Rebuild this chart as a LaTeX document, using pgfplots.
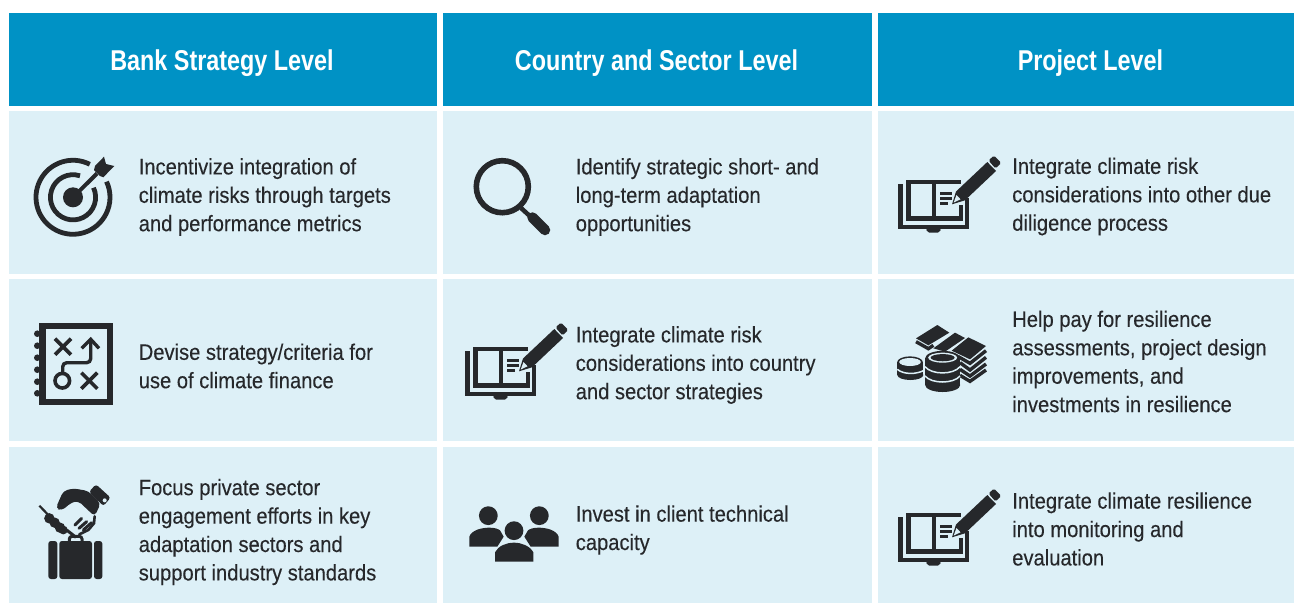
\documentclass[border=0pt]{standalone}
\usepackage{fontspec}
\setmainfont[FakeStretch=0.9,FakeBold=0.2]{Liberation Sans}
\newfontfamily\hdfont[FakeStretch=0.815]{Liberation Sans}
\usepackage{pgfplots}
\pgfplotsset{compat=1.18}
\definecolor{hdr}{RGB}{0,146,197}
\definecolor{cellbg}{RGB}{221,240,247}
\definecolor{ink}{RGB}{38,40,43}
\newdimen\px \px=0.75pt
\tikzset{lw/.style={line width=#1*0.75pt}}
\newcommand{\cell}[5]{\addplot[fill=#5,draw=none,forget plot] coordinates {(#1,#3)(#2,#3)(#2,#4)(#1,#4)} -- cycle;}
\newcommand{\hd}[2]{\node[text=white,anchor=center,font=\fontsize{21.5}{25}\hdfont\bfseries] at (axis cs:#1,63.5) {#2};}
\newcommand{\tx}[3]{\node[text=ink,anchor=west,align=left,inner sep=0pt,font=\fontsize{16.8}{21.3}\selectfont] at (axis cs:#1,#2) {#3};}
% local drawings; coordinates are pixels of the reference
\newcommand{\bookicon}[2]{%
\begin{scope}[shift={(#1,#2)}]
 \draw[ink,lw=4.4,line join=miter] (12.3,36)--(12.3,79)--(79,79)--(79,50);
 \fill[ink,rounded corners=1.5pt] (38,80)--(53,80)--(52,84.5)--(39,84.5)--cycle;
 \draw[ink,lw=4.3] (18.3,33.8)--(72.7,33.8);
 \draw[ink,lw=4.3] (20.5,33.8)--(20.5,72.7);
 \draw[ink,lw=4.3] (45.7,33.8)--(45.7,72.7);
 \draw[ink,lw=4.3] (18.3,70.5)--(72.7,70.5)--(72.7,57);
 \draw[ink,lw=2.6] (52.3,45.3)--(64,45.3) (52.3,50.3)--(64,50.3) (52.3,55.3)--(60,55.3);
 \fill[ink] (64,56.3)--(68,43.5)--(99.3,14)--(108,23)--(77,52.3)--cycle;
 \fill[cellbg] (65.7,54.5)--(68.5,47)--(72.5,51.3)--cycle;
 \fill[ink,rounded corners=1.2pt] (100.5,12.5)--(106,7.5)--(113.3,15)--(107.5,20.5)--cycle;
\end{scope}}
\begin{document}
\begin{tikzpicture}
\begin{axis}[hide axis,scale only axis,width=970.5pt,height=453pt,
  xmin=0,xmax=1294,ymin=0,ymax=604,y dir=reverse,clip=false]
\cell{0}{1294}{0}{604}{white}
% headers
\cell{9}{437}{13}{106}{hdr}
\cell{443}{872}{13}{106}{hdr}
\cell{878}{1294}{13}{106}{hdr}
% body cells
\cell{9}{437}{111}{274}{cellbg}
\cell{443}{872}{111}{274}{cellbg}
\cell{878}{1294}{111}{274}{cellbg}
\cell{9}{437}{279}{441}{cellbg}
\cell{443}{872}{279}{441}{cellbg}
\cell{878}{1294}{279}{441}{cellbg}
\cell{9}{437}{447}{603}{cellbg}
\cell{443}{872}{447}{603}{cellbg}
\cell{878}{1294}{447}{603}{cellbg}
\hd{222}{Bank Strategy Level}
\hd{656.5}{Country and Sector Level}
\hd{1090.5}{Project Level}
\tx{138.5}{197}{Incentivize integration of\\climate risks through targets\\and performance metrics}
\tx{138.5}{366}{Devise strategy/criteria for\\use of climate finance}
\tx{138.5}{532}{Focus private sector\\engagement efforts in key\\adaptation sectors and\\support industry standards}
\tx{575.5}{197}{Identify strategic short- and\\long-term adaptation\\opportunities}
\tx{575.5}{365}{Integrate climate risk\\considerations into country\\and sector strategies}
\tx{575.5}{530}{Invest in client technical\\capacity}
\tx{1012}{196.5}{Integrate climate risk\\considerations into other due\\diligence process}
\tx{1012}{361.5}{Help pay for resilience\\assessments, project design\\improvements, and\\investments in resilience}
\tx{1012}{529}{Integrate climate resilience\\into monitoring and\\evaluation}
\begin{scope}[shift={(axis cs:0,0)},x=0.75pt,y=-0.75pt]
 % target
 \fill[ink] (73,197.3) circle[radius=10\px];
 \draw[ink,lw=4.8] (89.8,164.3) arc[start angle=63,delta angle=322,radius=37\px];
 \draw[ink,lw=4.8] (80,175.8) arc[start angle=72,delta angle=313,radius=22.6\px];
 \draw[ink,lw=4] (73,197.3)--(97,173.5);
 \fill[ink] (94,170)--(95,166)--(104,156.7)--(106,164)--(114.3,166)--(103.3,177.3)--(100,176)--cycle;
 % notebook
 \draw[ink,lw=6.5] (42.5,326)rectangle(110,401.8);
 \fill[ink] (37.3,333.7) circle[radius=3.3\px];
 \fill[ink] (37.3,345.7) circle[radius=3.3\px];
 \fill[ink] (37.3,357.7) circle[radius=3.3\px];
 \fill[ink] (37.3,369.7) circle[radius=3.3\px];
 \fill[ink] (37.3,381.7) circle[radius=3.3\px];
 \fill[ink] (37.3,393.3) circle[radius=3.3\px];
 \draw[ink,lw=3.6] (55,338.7)--(71,354.7) (55,354.7)--(71,338.7);
 \draw[ink,lw=3.6] (81.3,372.7)--(97.3,388.7) (81.3,388.7)--(97.3,372.7);
 \draw[ink,lw=3.6] (62.3,380.7) circle[radius=7.3\px];
 \draw[ink,lw=3.4,rounded corners=3pt] (62.7,373)--(62.7,362.7)--(90.7,362.7)--(90.7,340.5);
 \draw[ink,lw=3.4] (81.7,348.3)--(90.7,339.3)--(99,348.3);
 % hand and briefcase
 \begin{scope}[shift={(20,475)},x=0.25pt,y=-0.25pt]
  \fill[ink,rounded corners=2pt] (118,198)rectangle(216,312);
  \fill[ink,rounded corners=2pt] (85,198)rectangle(112,312);
  \fill[ink,rounded corners=2pt] (222,198)rectangle(247,312);
  \draw[ink,lw=3,rounded corners=2pt] (148,198)--(148,184)--(186,184)--(186,198);
  \fill[ink,rounded corners=3pt] (107,100)--(130,48)--(160,40)--(205,48)--(242,85)--(224,124)--(175,78)--(155,82)--(125,107)--cycle;
  \fill[ink,rounded corners=2pt] (228,28)--(272,68)--(250,93)--(207,50)--cycle;
  \fill[cellbg] (254,76) circle[radius=2\px];
  \draw[ink,lw=3,line cap=round] (165,150)--(185,130) (177,160)--(200,140) (190,165)--(215,143);
  \draw[ink,lw=2.6,line cap=round] (224,124)--(222,145)--(205,165)--(178,178);
  \draw[ink,lw=2.2] (58,92)--(85,120);
  \fill[ink] (88,130) circle[radius=5.2\px];
  \fill[ink] (104,143) circle[radius=5.2\px];
  \fill[ink] (120,158) circle[radius=5.2\px];
  \fill[ink] (130,165) circle[radius=4.4\px];
  \draw[ink,lw=3] (140,165)--(168,187);
 \end{scope}
 % magnifier
 \draw[ink,lw=5.6] (502.3,186.7) circle[radius=26\px];
 \draw[ink,lw=4.5] (521,208)--(532,218);
 \draw[ink,lw=10.5,line cap=round] (532.5,217.5)--(545,230);
 % book icons
 \bookicon{455}{315}
 \bookicon{888}{148}
 \bookicon{888}{481}
 % people
 \begin{scope}[shift={(460,495)},x=0.25pt,y=-0.25pt]
  \fill[ink] (85,62) circle[radius=9.4\px];
  \fill[ink] (238,62) circle[radius=9.4\px];
  \fill[ink] (162,107) circle[radius=9.4\px];
  \fill[ink] (28,155)--(28,125) .. controls (35,105) and (65,98) .. (88,98) .. controls (105,98) and (115,102) .. (120,106) -- (131,125) -- (112,155) -- cycle;
  \fill[ink] (296,155)--(296,125) .. controls (289,105) and (259,98) .. (236,98) .. controls (219,98) and (209,102) .. (204,106) -- (193,125) -- (212,155) -- cycle;
  \fill[ink] (105,200)--(105,172) .. controls (115,152) and (140,143) .. (162,143) .. controls (184,143) and (209,152) .. (220,172) -- (220,200) -- cycle;
 \end{scope}
 % money
 \begin{scope}[shift={(890,320)},x=0.25pt,y=-0.25pt]
  \fill[ink] (78,55)--(142,15)--(178,38)--(115,76)--cycle;
  \fill[ink] (130,85)--(195,38)--(225,54)--(165,95)--cycle;
  \fill[ink] (185,92)--(235,52)--(288,78)--(240,118)--cycle;
  \draw[ink,lw=3.4] (78,65)--(115,86)--(130,76);
  \draw[ink,lw=3.4] (205,110)--(240,130)--(288,92);
  \draw[ink,lw=3.4] (210,128)--(240,150)--(288,112);
  \draw[ink,lw=3.4] (210,148)--(240,168)--(288,132);
  \draw[ink,lw=3.4] (210,166)--(240,184)--(288,150);
  % left coins
  \fill[ink] (22,127)rectangle(100,165);
  \fill[ink] (61,165) ellipse[x radius=13\px,y radius=5\px];
  \fill[ink] (60,127) ellipse[x radius=12.9\px,y radius=6\px];
  \fill[cellbg] (60,126) ellipse[x radius=10.8\px,y radius=4\px];
  \draw[cellbg,lw=1.5] (22,148)..controls (40,164) and (80,164)..(104,150);
  % central stack
  \fill[ink] (105,115)rectangle(210,195);
  \fill[ink] (158,195) ellipse[x radius=17.5\px,y radius=7\px];
  \fill[ink] (158,115) ellipse[x radius=17.5\px,y radius=7.5\px];
  \fill[cellbg] (158,113) ellipse[x radius=14.5\px,y radius=5\px];
  \fill[ink] (158,113) ellipse[x radius=12\px,y radius=3.6\px];
  \draw[cellbg,lw=1.5] (105,140)..controls (125,165) and (190,165)..(210,140);
  \draw[cellbg,lw=1.5] (105,168)..controls (125,192) and (190,192)..(210,168);
 \end{scope}
\end{scope}
\end{axis}
\end{tikzpicture}
\end{document}
